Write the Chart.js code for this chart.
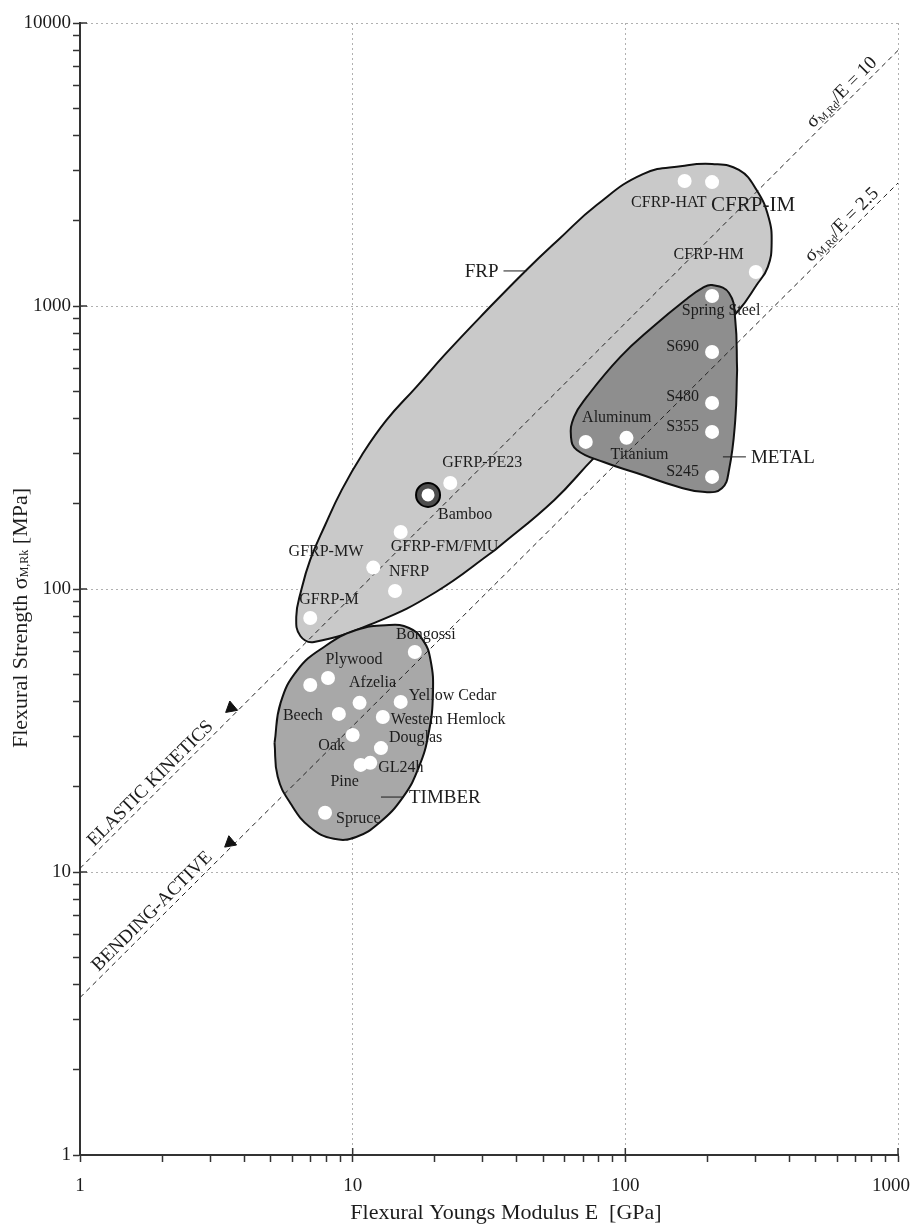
<!DOCTYPE html>
<html>
<head>
<meta charset="utf-8">
<script src="https://cdn.jsdelivr.net/npm/chart.js@4.4.0/dist/chart.umd.min.js"></script>
<style>
  html, body { margin: 0; padding: 0; background: #fff; }
  #wrap { width: 912px; height: 1228px; }
</style>
</head>
<body>
<div id="wrap"><canvas id="chart" width="912" height="1228"></canvas></div>
<script>
// Materials: flexural Youngs modulus E [GPa] and flexural strength [MPa]
const materialNames = ['CFRP-HAT', 'CFRP-IM', 'CFRP-HM', 'Spring Steel', 'S690', 'S480', 'S355', 'S245',
  'Aluminum', 'Titanium', 'Bamboo', 'GFRP-PE23', 'GFRP-FM/FMU', 'GFRP-MW', 'NFRP', 'GFRP-M',
  'Bongossi', 'Plywood', '', 'Afzelia', 'Yellow Cedar', 'Beech', 'Western Hemlock', 'Oak', 'Douglas',
  'Pine', 'GL24h', 'Spruce'];
const modulusE = [165, 208, 301, 208, 208, 208, 208, 208,
  71.6, 101, 18.9, 22.8, 15.0, 11.9, 14.3, 6.99,
  16.9, 8.12, 6.99, 10.6, 15.0, 8.9, 12.9, 10.0, 12.7,
  10.7, 11.6, 7.92];
const strengthMPa = [2766, 2740, 1318, 1085, 688, 454, 359, 249,
  331, 342, 215, 237, 159, 119, 98.4, 79.0,
  59.9, 48.5, 45.8, 39.6, 39.9, 36.2, 35.3, 30.5, 27.4,
  23.9, 24.3, 16.2];

// Material family envelopes (outline vertices, E / strength)
const frpE = [33.2, 20.2, 12.2, 7.22, 6.43, 6.21, 6.48, 6.99, 7.92, 9.12, 10.8, 13.3, 17.1, 21.9, 30.6, 43.4, 57.2, 78.5, 116, 162, 208, 261, 303, 335, 344, 333, 303, 261, 149, 76.6, 54.8, 33.2];
const frpS = [137, 97.6, 76.4, 65.0, 68.2, 79.6, 99.2, 127, 168, 224, 297, 395, 517, 677, 952, 1341, 1725, 2275, 2926, 3126, 3176, 3025, 2570, 2063, 1670, 1373, 1186, 968, 548, 290, 206, 137];
const metalE = [257, 253, 240, 226, 196, 158, 110, 83.2, 66.4, 63.2, 64.8, 72.2, 95.9, 126, 166, 192, 208, 240, 253, 257];
const metalS = [594, 395, 263, 227, 220, 229, 257, 281, 310, 344, 405, 477, 661, 843, 1050, 1158, 1186, 1112, 893, 594];
const timberE = [5.17, 5.31, 5.91, 6.98, 8.53, 10.3, 12.5, 15.3, 17.5, 19.0, 19.7, 19.3, 18.1, 16.1, 13.6, 10.3, 7.85, 6.27, 5.44, 5.17];
const timberS = [28.6, 21.7, 17.5, 14.4, 13.1, 13.3, 14.9, 18.4, 23.5, 31.0, 42.9, 56.1, 66.0, 72.8, 74.6, 71.6, 62.4, 51.7, 39.6, 28.6];

// Ratio lines sigma/E
const ratioE = [1, 1000];
const ratio10S = [10.3, 8000];
const ratio25S = [3.6, 2720];

// Arrow heads on the ratio lines
const arrowE = [3.58, 3.55];
const arrowS = [38.0, 12.7];

// Family labels (leader line touches the envelope here)
const regionNames = ['FRP', 'METAL', 'TIMBER'];
const regionE = [43.4, 228, 12.7];
const regionS = [1330, 293, 18.4];

const xTickValues = [1, 10, 100, 1000];

// label placement: [dx, dy, align, fontSize]
const labelLayout = [
  [22, 22, 'right', 16], [-1, 23, 'left', 21], [-12, -17, 'right', 16], [9, 15, 'center', 16],
  [-13, -5, 'right', 16], [-13, -6, 'right', 16], [-13, -5, 'right', 16], [-13, -5, 'right', 16],
  [31, -24, 'center', 16], [13, 17, 'center', 16], [10, 20, 'left', 16], [-8, -20, 'left', 16],
  [-10, 15, 'left', 16], [-10, -16, 'right', 16], [-6, -19, 'left', 16], [-11, -18, 'left', 16],
  [11, -17, 'center', 16], [26, -18, 'center', 16], [0, 0, 'left', 16], [13, -20, 'center', 16],
  [8, -6, 'left', 16], [-16, 2, 'right', 16], [8, 3, 'left', 16], [-21, 11, 'center', 16],
  [8, -10, 'left', 16], [-16, 17, 'center', 16], [8, 5, 'left', 16], [11, 6, 'left', 16]
];
// leader direction for family labels (-1 = text on left, 1 = text on right)
const regionSide = [-1, 1, 1];

const serif = "'Liberation Serif', 'DejaVu Serif', serif";
const ink = '#1c1c1c';

function pts(xs, ys) {
  return xs.map((v, i) => ({ x: v, y: ys[i] }));
}

function isDecade(v) {
  const l = Math.log10(v);
  return Math.abs(l - Math.round(l)) < 1e-9;
}

function keepIntegerTicks(scale) {
  scale.ticks = scale.ticks.filter(t => {
    const m = t.value / Math.pow(10, Math.floor(Math.log10(t.value) + 1e-9));
    return Math.abs(m - Math.round(m)) < 1e-6;
  });
}

// draws text pieces with subscripts, starting at x (left aligned)
function drawParts(ctx, parts, x, y) {
  let cx = x;
  parts.forEach(p => {
    ctx.font = p.size + 'px ' + serif;
    ctx.fillText(p.text, cx, y + (p.dy || 0));
    cx += ctx.measureText(p.text).width;
  });
}

function partsWidth(ctx, parts) {
  let w = 0;
  parts.forEach(p => {
    ctx.font = p.size + 'px ' + serif;
    w += ctx.measureText(p.text).width;
  });
  return w;
}

const annotate = {
  id: 'annotate',
  afterDraw(chart) {
    const { ctx, chartArea: a } = chart;
    const xs = chart.scales.x, ys = chart.scales.y;
    ctx.save();

    // major ticks also reach into the plot
    ctx.strokeStyle = '#333';
    ctx.lineWidth = 1.5;
    xs.ticks.forEach(t => {
      if (!isDecade(t.value)) return;
      const px = xs.getPixelForValue(t.value);
      ctx.beginPath(); ctx.moveTo(px, a.bottom); ctx.lineTo(px, a.bottom - 7); ctx.stroke();
    });
    ys.ticks.forEach(t => {
      if (!isDecade(t.value)) return;
      const py = ys.getPixelForValue(t.value);
      ctx.beginPath(); ctx.moveTo(a.left, py); ctx.lineTo(a.left + 7, py); ctx.stroke();
    });

    // x tick labels
    ctx.fillStyle = ink;
    ctx.font = '19px ' + serif;
    ctx.textBaseline = 'middle';
    ctx.textAlign = 'center';
    xTickValues.forEach(v => {
      const w = ctx.measureText(String(v)).width;
      const px = Math.min(xs.getPixelForValue(v), chart.width - 2 - w / 2);
      ctx.fillText(String(v), px, a.bottom + 31);
    });

    // axis titles
    ctx.font = '22px ' + serif;
    ctx.fillText('Flexural Youngs Modulus E  [GPa]', 506, a.bottom + 58);

    const yTitle = [
      { text: 'Flexural Strength \u03C3', size: 22 },
      { text: 'M,Rk', size: 12, dy: 4 },
      { text: ' [MPa]', size: 22 }
    ];
    ctx.save();
    ctx.translate(21, 618);
    ctx.rotate(-Math.PI / 2);
    ctx.textAlign = 'left';
    drawParts(ctx, yTitle, -partsWidth(ctx, yTitle) / 2, 0);
    ctx.restore();

    // material labels
    materialNames.forEach((name, i) => {
      if (!name) return;
      const [dx, dy, align, size] = labelLayout[i];
      const px = xs.getPixelForValue(modulusE[i]);
      const py = ys.getPixelForValue(strengthMPa[i]);
      ctx.font = size + 'px ' + serif;
      ctx.textAlign = align;
      ctx.fillText(name, px + dx, py + dy);
    });

    // family labels with leader lines
    ctx.font = '19px ' + serif;
    ctx.lineWidth = 1;
    ctx.strokeStyle = ink;
    regionNames.forEach((name, i) => {
      const px = xs.getPixelForValue(regionE[i]);
      const py = ys.getPixelForValue(regionS[i]);
      const s = regionSide[i];
      ctx.beginPath(); ctx.moveTo(px, py); ctx.lineTo(px + s * 23, py); ctx.stroke();
      ctx.textAlign = s < 0 ? 'right' : 'left';
      ctx.fillText(name, px + s * 28, py + 1);
    });

    // texts along ratio lines
    const lineText = (sArr, t, parts) => {
      const x0 = xs.getPixelForValue(ratioE[0]), y0 = ys.getPixelForValue(sArr[0]);
      const x1 = xs.getPixelForValue(ratioE[1]), y1 = ys.getPixelForValue(sArr[1]);
      const ang = Math.atan2(y1 - y0, x1 - x0);
      ctx.save();
      ctx.translate(x0 + (x1 - x0) * t, y0 + (y1 - y0) * t);
      ctx.rotate(ang);
      ctx.textAlign = 'left';
      ctx.textBaseline = 'alphabetic';
      drawParts(ctx, parts, -partsWidth(ctx, parts) / 2, -5);
      ctx.restore();
    };
    const sigma = (val) => [
      { text: '\u03C3', size: 19 },
      { text: 'M,Rd', size: 11, dy: 3 },
      { text: '/E = ' + val, size: 19 }
    ];
    lineText(ratio10S, 0.095, [{ text: 'ELASTIC KINETICS', size: 19 }]);
    lineText(ratio25S, 0.097, [{ text: 'BENDING-ACTIVE', size: 19 }]);
    lineText(ratio10S, 0.94, sigma('10'));
    lineText(ratio25S, 0.94, sigma('2.5'));

    ctx.restore();
  }
};

const envelope = (xsArr, ysArr, fillColor, order) => ({
  data: pts(xsArr, ysArr),
  showLine: true,
  fill: 'shape',
  tension: 0.45,
  backgroundColor: fillColor,
  borderColor: '#111',
  borderWidth: 2,
  pointRadius: 0,
  order: order
});

const ratioLine = (sArr) => ({
  data: pts(ratioE, sArr),
  showLine: true,
  fill: false,
  borderColor: '#222',
  borderWidth: 1,
  borderDash: [5, 4],
  pointRadius: 0,
  order: 2
});

const bambooIdx = materialNames.indexOf('Bamboo');

new Chart(document.getElementById('chart'), {
  type: 'scatter',
  data: {
    datasets: [
      {
        data: [{ x: modulusE[bambooIdx], y: strengthMPa[bambooIdx] }],
        pointRadius: 12,
        pointBackgroundColor: 'rgba(0,0,0,0)',
        pointBorderColor: '#000',
        pointBorderWidth: 2,
        order: -1
      },
      {
        data: pts(modulusE, strengthMPa),
        pointRadius: c => c.dataIndex === bambooIdx ? 9 : 7,
        pointBackgroundColor: '#ffffff',
        pointBorderColor: '#4d4d4d',
        pointBorderWidth: c => c.dataIndex === bambooIdx ? 5 : 0,
        order: 0
      },
      {
        data: pts(arrowE, arrowS),
        pointStyle: 'triangle',
        pointRadius: 7,
        pointRotation: -10,
        pointBackgroundColor: '#111',
        pointBorderColor: '#111',
        pointBorderWidth: 1,
        order: 1
      },
      ratioLine(ratio10S),
      ratioLine(ratio25S),
      envelope(timberE, timberS, '#a8a8a8', 3),
      envelope(metalE, metalS, '#8e8e8e', 4),
      envelope(frpE, frpS, '#c9c9c9', 5)
    ]
  },
  options: {
    responsive: false,
    devicePixelRatio: 1,
    animation: false,
    layout: { padding: { top: 23, right: 4, left: 0, bottom: 0 } },
    plugins: {
      legend: { display: false },
      tooltip: { enabled: false }
    },
    scales: {
      x: {
        type: 'logarithmic',
        min: 1,
        max: 1000,
        afterBuildTicks: keepIntegerTicks,
        afterFit: s => { s.height = 73; s.paddingLeft = 0; s.paddingRight = 0; },
        ticks: { display: false, autoSkip: false },
        grid: {
          color: c => (c.tick && isDecade(c.tick.value)) ? '#b0b0b0' : 'rgba(0,0,0,0)',
          tickColor: '#333',
          tickLength: 7,
          tickWidth: 1.5
        },
        border: { color: '#333', width: 2, dash: [2, 3] }
      },
      y: {
        type: 'logarithmic',
        min: 1,
        max: 10000,
        afterBuildTicks: keepIntegerTicks,
        afterFit: s => { s.width = 80; },
        ticks: {
          autoSkip: false,
          padding: 2,
          color: ink,
          font: { family: serif, size: 19 },
          callback: v => isDecade(v) ? String(v) : ''
        },
        grid: {
          color: c => (c.tick && isDecade(c.tick.value)) ? '#b0b0b0' : 'rgba(0,0,0,0)',
          tickColor: '#333',
          tickLength: 7,
          tickWidth: 1.5
        },
        border: { color: '#333', width: 2, dash: [2, 3] }
      }
    }
  },
  plugins: [annotate]
});
</script>
</body>
</html>
